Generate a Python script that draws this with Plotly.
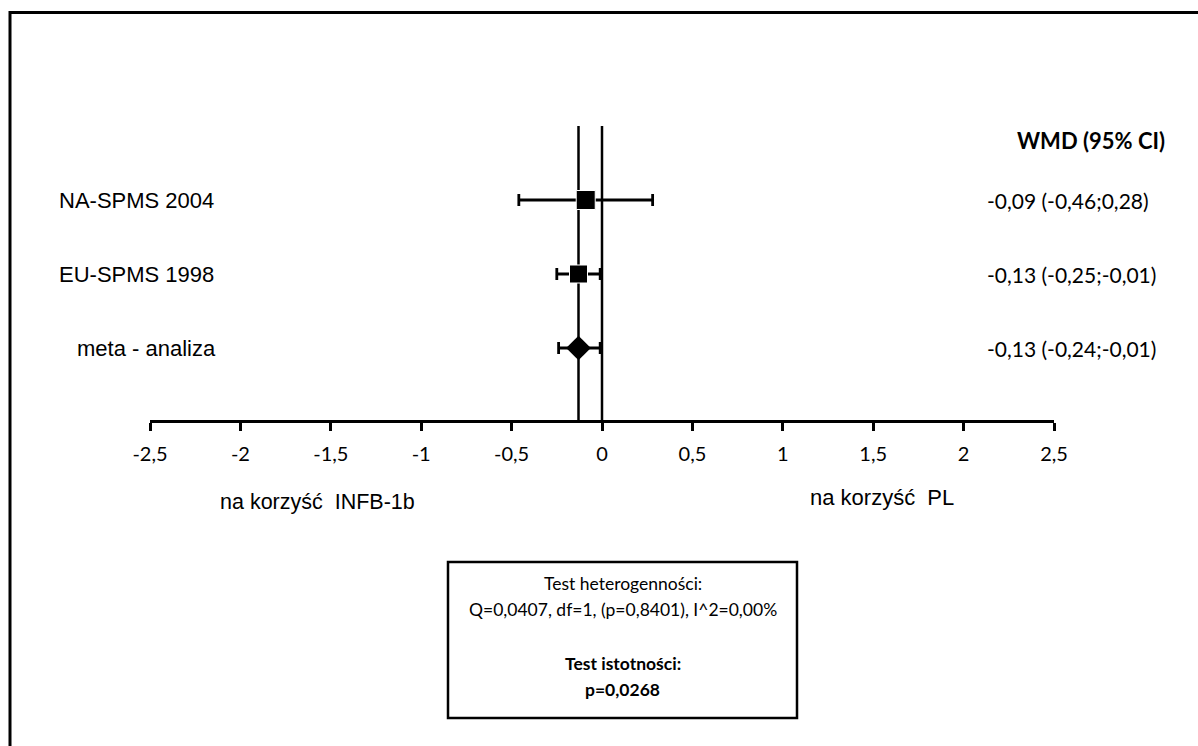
import plotly.graph_objects as go

# Forest plot: weighted mean difference (WMD) with 95% CI
studies = ["NA-SPMS 2004", "EU-SPMS 1998", "meta - analiza"]
wmd = [-0.09, -0.13, -0.13]
ci_low = [-0.46, -0.25, -0.24]
ci_high = [0.28, -0.01, -0.01]
row_pos = [3, 2, 1]
study_marker_size = [19, 18]

tick_vals = [-2.5, -2, -1.5, -1, -0.5, 0, 0.5, 1, 1.5, 2, 2.5]
tick_text = ["-2,5", "-2", "-1,5", "-1", "-0,5", "0", "0,5", "1", "1,5", "2", "2,5"]

header = "WMD (95% CI)"
favours_left = "na korzyść  INFB-1b"
favours_right = "na korzyść  PL"
box_lines = [
    ("Test heterogenności:", False),
    ("Q=0,0407, df=1, (p=0,8401), I^2=0,00%", False),
    ("Test istotności:", True),
    ("p=0,0268", True),
]


def fmt(v):
    return f"{v:.2f}".replace(".", ",")


W, H = 1198, 746
AX_Y = 420  # pixel row of the x axis line
SANS = "Liberation Sans, Arial, sans-serif"
CAL = "Lato, Open Sans, sans-serif"

fig = go.Figure()

# reference lines: no effect (0) and pooled estimate
pooled = wmd[-1]
for xv in (0, pooled):
    fig.add_trace(go.Scatter(
        x=[xv, xv], y=[0.0, 4.0], mode="lines",
        line=dict(color="black", width=2.5), hoverinfo="skip", showlegend=False))

# individual studies
n_st = len(studies) - 1
fig.add_trace(go.Scatter(
    x=wmd[:n_st], y=row_pos[:n_st], mode="markers",
    marker=dict(symbol="square", size=study_marker_size, color="black", opacity=1),
    error_x=dict(type="data", symmetric=False,
                 array=[h - e for h, e in zip(ci_high[:n_st], wmd[:n_st])],
                 arrayminus=[e - l for e, l in zip(wmd[:n_st], ci_low[:n_st])],
                 color="black", thickness=2.8, width=6),
    showlegend=False))

# pooled result
fig.add_trace(go.Scatter(
    x=[wmd[-1]], y=[row_pos[-1]], mode="markers",
    marker=dict(symbol="diamond", size=19, color="black", opacity=1),
    error_x=dict(type="data", symmetric=False,
                 array=[ci_high[-1] - wmd[-1]],
                 arrayminus=[wmd[-1] - ci_low[-1]],
                 color="black", thickness=2.8, width=6),
    showlegend=False))

annotations = []
label_left_px = [57, 57, 75]
for name, y, lx in zip(studies, row_pos, label_left_px):
    annotations.append(dict(
        text=name, x=lx / W, xref="paper", y=y, yref="y",
        xanchor="left", yanchor="middle", showarrow=False,
        font=dict(family=SANS, size=22, color="black")))
for e, lo, hi, y in zip(wmd, ci_low, ci_high, row_pos):
    annotations.append(dict(
        text=f"{fmt(e)} ({fmt(lo)};{fmt(hi)})", x=985 / W, xref="paper",
        y=y, yref="y", xanchor="left", yanchor="middle", showarrow=False,
        font=dict(family=CAL, size=21, color="black")))
annotations.append(dict(
    text=f"<b>{header}</b>", x=1015 / W, xref="paper", y=1 - 140 / H,
    yref="paper", xanchor="left", yanchor="middle", showarrow=False,
    font=dict(family=CAL, size=22, color="black")))
annotations.append(dict(
    text=favours_left, x=218 / W, xref="paper", y=1 - 502 / H, yref="paper",
    xanchor="left", yanchor="middle", showarrow=False,
    font=dict(family=SANS, size=21.5, color="black")))
annotations.append(dict(
    text=favours_right, x=808 / W, xref="paper", y=1 - 497 / H, yref="paper",
    xanchor="left", yanchor="middle", showarrow=False,
    font=dict(family=SANS, size=22, color="black")))

box_x0, box_x1, box_y0, box_y1 = 448, 797, 562, 718
line_px = [583, 609, 663, 689]
for (txt, bold), py in zip(box_lines, line_px):
    annotations.append(dict(
        text=f"<b>{txt}</b>" if bold else txt,
        x=(box_x0 + box_x1) / 2 / W, xref="paper", y=1 - py / H, yref="paper",
        xanchor="center", yanchor="middle", showarrow=False,
        font=dict(family=CAL, size=17.5, color="black")))

shapes = [
    # statistics box
    dict(type="rect", xref="paper", yref="paper",
         x0=box_x0 / W, x1=box_x1 / W, y0=1 - box_y1 / H, y1=1 - box_y0 / H,
         line=dict(color="black", width=2.5), fillcolor="rgba(0,0,0,0)"),
    # outer frame
    dict(type="rect", xref="paper", yref="paper",
         x0=10 / W, x1=1.05, y0=-0.05, y1=1 - 12.5 / H,
         line=dict(color="black", width=3), fillcolor="rgba(0,0,0,0)"),
]

fig.update_layout(
    width=W, height=H,
    margin=dict(l=0, r=0, t=0, b=0, autoexpand=False),
    paper_bgcolor="white", plot_bgcolor="white",
    xaxis=dict(domain=[150 / W, 1054 / W], range=[-2.5, 2.5],
               tickvals=tick_vals, ticktext=tick_text,
               ticks="outside", ticklen=8, tickwidth=2.5, tickcolor="black",
               ticklabelstandoff=6,
               showline=True, linecolor="black", linewidth=2.5,
               showgrid=False, zeroline=False,
               tickfont=dict(family=CAL, size=20, color="black")),
    yaxis=dict(domain=[1 - AX_Y / H, 1], range=[1 - 72 / 74, 1 + 348 / 74],
               visible=False, showgrid=False, zeroline=False),
    annotations=annotations, shapes=shapes,
    showlegend=False,
)

fig.write_html("out.html")
